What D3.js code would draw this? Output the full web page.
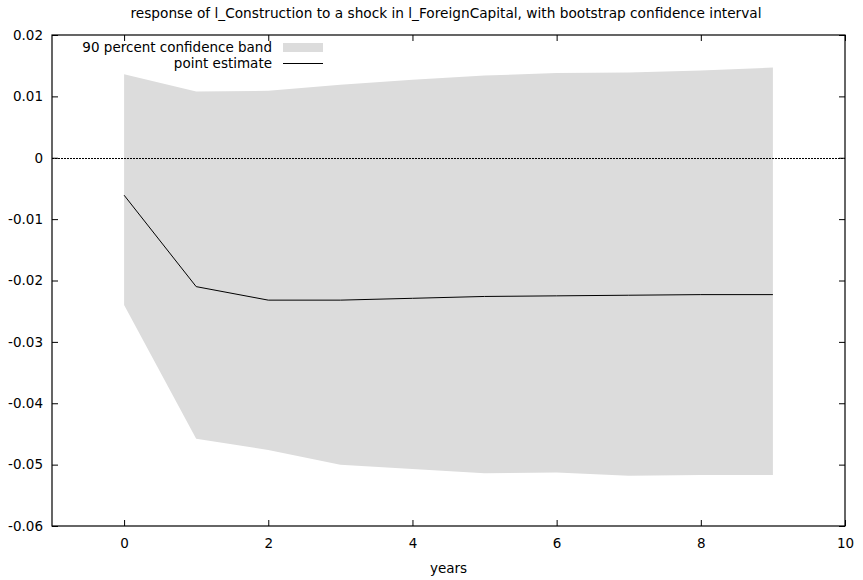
<!DOCTYPE html>
<html>
<head>
<meta charset="utf-8">
<script src="https://cdn.jsdelivr.net/npm/d3@7"></script>
<style>
  body { margin: 0; background: #fff; }
  svg { display: block; font-family: "DejaVu Sans", Verdana, sans-serif; }
</style>
</head>
<body>
<svg id="chart" width="863" height="580"></svg>
<script>
// Impulse response horizon (years)
const periods = [0, 1, 2, 3, 4, 5, 6, 7, 8, 9];
// Point estimate of the response
const pointEstimate = [-0.0061, -0.0210, -0.0232, -0.0232, -0.0229, -0.0226, -0.0225, -0.0224, -0.0223, -0.0223];
// 90 percent bootstrap band
const bandUpper = [0.0136, 0.0108, 0.0109, 0.0119, 0.0127, 0.0134, 0.0138, 0.0139, 0.0142, 0.0147];
const bandLower = [-0.0240, -0.0458, -0.0476, -0.0500, -0.0507, -0.0514, -0.0513, -0.0518, -0.0517, -0.0517];
// Axis ticks
const xTicks = [0, 2, 4, 6, 8, 10];
const yTicks = [0.02, 0.01, 0, -0.01, -0.02, -0.03, -0.04, -0.05, -0.06];

const title = "response of l_Construction to a shock in l_ForeignCapital, with bootstrap confidence interval";
const xLabel = "years";
const legendBand = "90 percent confidence band";
const legendLine = "point estimate";

const svg = d3.select("#chart");
const plotLeft = 52, plotRight = 845, plotTop = 35, plotBottom = 526;
const fontSize = "13.5px";

const x = d3.scaleLinear().domain([-1, 10]).range([plotLeft, plotRight]);
const y = d3.scaleLinear().domain([-0.06, 0.02]).range([plotBottom, plotTop]);

const rows = periods.map((p, i) => ({ p, est: pointEstimate[i], lo: bandLower[i], hi: bandUpper[i] }));

// Confidence band
svg.append("path")
  .datum(rows)
  .attr("fill", "#dcdcdc")
  .attr("d", d3.area().x(d => x(d.p)).y0(d => y(d.lo)).y1(d => y(d.hi)));

// Zero reference line
svg.append("line")
  .attr("x1", plotLeft).attr("x2", plotRight)
  .attr("y1", Math.round(y(0)) + 0.5).attr("y2", Math.round(y(0)) + 0.5)
  .attr("stroke", "#000").attr("stroke-width", 1)
  .attr("stroke-dasharray", "2,1");

// Point estimate
svg.append("path")
  .datum(rows)
  .attr("fill", "none")
  .attr("stroke", "#000")
  .attr("stroke-width", 1)
  .attr("d", d3.line().x(d => x(d.p)).y(d => y(d.est)));

// Axes with inward ticks, mirrored on the opposite sides
const fmtY = d => d === 0 ? "0" : d3.format(".2f")(d).replace("−", "-");
const tickLen = 6;

const gx = svg.append("g").attr("transform", `translate(0,${plotBottom})`)
  .call(d3.axisBottom(x).tickValues(xTicks).tickSize(-tickLen).tickPadding(12).tickFormat(d3.format("d")));
const gxTop = svg.append("g").attr("transform", `translate(0,${plotTop})`)
  .call(d3.axisTop(x).tickValues(xTicks).tickSize(-tickLen).tickFormat(""));
const gy = svg.append("g").attr("transform", `translate(${plotLeft},0)`)
  .call(d3.axisLeft(y).tickValues(yTicks).tickSize(-tickLen).tickPadding(9).tickFormat(fmtY));
const gyRight = svg.append("g").attr("transform", `translate(${plotRight},0)`)
  .call(d3.axisRight(y).tickValues(yTicks).tickSize(-tickLen).tickFormat(""));

[gx, gxTop, gy, gyRight].forEach(g => {
  g.select(".domain").remove();
  g.selectAll(".tick line").attr("stroke", "#000");
  g.selectAll("text").attr("fill", "#000").style("font-family", "DejaVu Sans, Verdana, sans-serif").style("font-size", fontSize);
});

// Frame
svg.append("rect")
  .attr("x", plotLeft).attr("y", plotTop)
  .attr("width", plotRight - plotLeft).attr("height", plotBottom - plotTop)
  .attr("fill", "none").attr("stroke", "#000").attr("stroke-width", 1.2);

// Title and axis label
svg.append("text")
  .attr("x", 446).attr("y", 18)
  .attr("text-anchor", "middle")
  .style("font-size", "13.7px")
  .text(title);

svg.append("text")
  .attr("x", (plotLeft + plotRight) / 2).attr("y", 573)
  .attr("text-anchor", "middle")
  .style("font-size", fontSize)
  .text(xLabel);

// Legend
const legend = svg.append("g");
legend.append("text")
  .attr("x", 272).attr("y", 52)
  .attr("text-anchor", "end").style("font-size", fontSize)
  .text(legendBand);
legend.append("rect")
  .attr("x", 283).attr("y", 43).attr("width", 40).attr("height", 9)
  .attr("fill", "#dcdcdc");
legend.append("text")
  .attr("x", 272).attr("y", 68)
  .attr("text-anchor", "end").style("font-size", fontSize)
  .text(legendLine);
legend.append("line")
  .attr("x1", 283).attr("x2", 323).attr("y1", 63.5).attr("y2", 63.5)
  .attr("stroke", "#000").attr("stroke-width", 1);
</script>
</body>
</html>
